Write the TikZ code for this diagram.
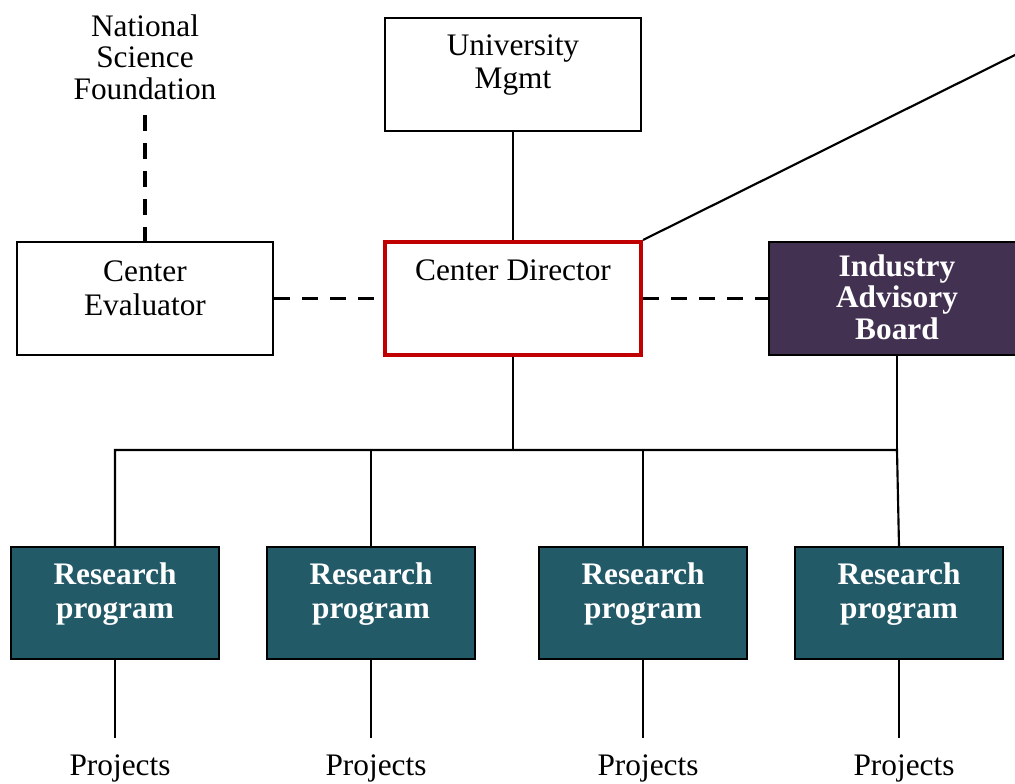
\documentclass[tikz,border=0pt]{standalone}
\usepackage{fontspec}
\setmainfont{Liberation Serif}
\usetikzlibrary{fit}
\definecolor{iab}{HTML}{433152}
\definecolor{rp}{HTML}{235A68}
\definecolor{cdred}{HTML}{C00000}
\begin{document}
\begin{tikzpicture}[x=0.75pt,y=-0.75pt,
  box/.style={draw=black,line width=1.5pt,inner sep=0pt,fill=white},
  iabbox/.style={box,fill=iab},
  rpbox/.style={box,fill=rp},
  cdbox/.style={draw=cdred,line width=3pt,inner sep=0pt,fill=white},
  txt/.style={align=center,inner sep=0pt,font=\fontsize{23.5}{23.6}\selectfont},
  txtb/.style={align=center,inner sep=0pt,font=\fontsize{23.5}{25.2}\selectfont},
  wtxt/.style={align=center,inner sep=0pt,text=white,font=\fontsize{23.5}{23.6}\selectfont\bfseries},
  rtxt/.style={align=center,inner sep=0pt,text=white,font=\fontsize{23.5}{26}\selectfont\bfseries},
  conn/.style={line width=1.6pt},
  dconn/.style={line width=2.4pt,dash pattern=on 12pt off 9pt}]
\useasboundingbox (0,0) rectangle (1015,783);
% boxes
\node[box,fit={(385,18) (641,131)}] (um) {};
\node[box,fit={(17,242) (273,355)}] (ce) {};
\node[cdbox,fit={(385,242) (641,355)}] (cd) {};
\node[iabbox,fit={(769,242) (1025,355)}] (iab) {};
\node[rpbox,fit={(11,547) (219,659)}] (r1) {};
\node[rpbox,fit={(267,547) (475,659)}] (r2) {};
\node[rpbox,fit={(539,547) (747,659)}] (r3) {};
\node[rpbox,fit={(795,547) (1003,659)}] (r4) {};
% texts
\node[txt] (nsf) at (145,57) {National\\Science\\Foundation};
\node[txtb] (umt) at (513,65) {University\\Mgmt};
\node[txtb] (cet) at (145,288) {Center\\Evaluator};
\node[txt] (cdt) at (513,270) {Center Director};
\node[wtxt] (iabt) at (897,297) {Industry\\Advisory\\Board};
\node[rtxt] (r1t) at (115,594) {Research\\program};
\node[rtxt] (r2t) at (371,594) {Research\\program};
\node[rtxt] (r3t) at (643,594) {Research\\program};
\node[rtxt] (r4t) at (899,594) {Research\\program};
\node[txt] (p1) at (120,768) {Projects};
\node[txt] (p2) at (376,768) {Projects};
\node[txt] (p3) at (648,768) {Projects};
\node[txt] (p4) at (904,768) {Projects};
% coordinates
\coordinate (nsfb) at (145,115);
\coordinate (bL) at (115,450);
\coordinate (bR) at (897,450);
\coordinate (off) at (1035,45);
% connectors
\draw[dconn] (nsfb) -- (ce.north);
\draw[dconn] (ce.east) -- (cd.west);
\draw[dconn] (cd.east) -- (iab.west);
\draw[conn] (um.south) -- (cd.north);
\draw[conn] (cd.north east) -- (off);
\draw[conn] (cd.south) -- (513,450);
\draw[conn] (897,355) -- (bR);
\draw[conn] (r1.north) -- (bL) -- (bR) -- (r4.north);
\draw[conn] (r2.north) -- (371,450);
\draw[conn] (r3.north) -- (643,450);
\draw[conn] (r1.south) -- (115,738);
\draw[conn] (r2.south) -- (371,738);
\draw[conn] (r3.south) -- (643,738);
\draw[conn] (r4.south) -- (899,738);
\end{tikzpicture}
\end{document}
